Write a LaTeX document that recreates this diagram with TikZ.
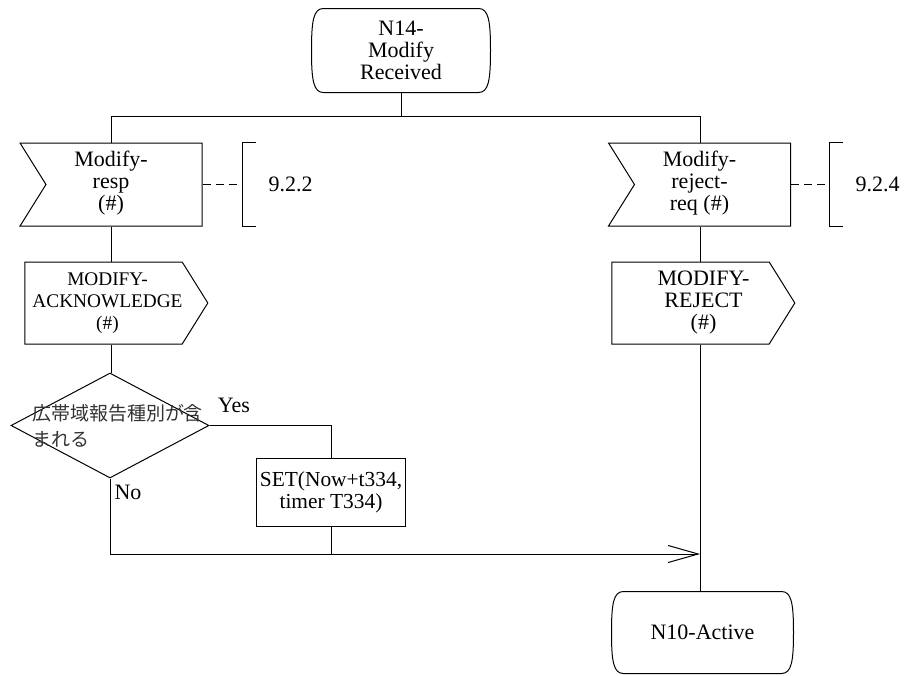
\documentclass[tikz,border=0pt]{standalone}
\usepackage{fontspec}
\setmainfont{Liberation Serif}
\newfontfamily\jpfont{Noto Sans CJK JP}
\usetikzlibrary{arrows.meta, positioning, shapes.geometric, shapes.symbols}

% text of a signal symbol, moved off the node centre
\newcommand{\sigtext}[2]{\hspace*{#1}\begin{tabular}{@{}c@{}}#2\end{tabular}\hspace*{-#1}}
% outline of a state symbol round node #1
\newcommand{\stateframe}[1]{%
  \draw ([xshift=12pt]#1.north west) -- ([xshift=-12pt]#1.north east)
    .. controls ([xshift=-2pt]#1.north east) and ([yshift=-12pt]#1.north east) .. (#1.east)
    .. controls ([yshift=12pt]#1.south east) and ([xshift=-2pt]#1.south east) .. ([xshift=-12pt]#1.south east)
    -- ([xshift=12pt]#1.south west)
    .. controls ([xshift=2pt]#1.south west) and ([yshift=12pt]#1.south west) .. (#1.west)
    .. controls ([yshift=-12pt]#1.north west) and ([xshift=2pt]#1.north west) .. cycle;}

\begin{document}
\begin{tikzpicture}[
    x=1pt, y=-1pt,
    line width=1pt,
    every node/.style={font=\rmfamily\fontsize{22}{22}\selectfont},
    state/.style={rectangle, minimum width=178pt, minimum height=83pt, align=center},
    insig/.style={signal, signal from=west, signal to=nowhere, signal pointer angle=116, draw, minimum width=182pt, minimum height=83pt},
    outsig/.style={signal, signal to=east, signal from=nowhere, signal pointer angle=116, draw, minimum width=183pt, minimum height=82pt, inner xsep=1pt},
    decision/.style={diamond, draw, minimum width=198pt, minimum height=105pt, inner sep=0pt},
    task/.style={rectangle, draw, minimum width=147pt, minimum height=68pt, align=center, font=\rmfamily\fontsize{21.4}{22}\selectfont},
    cmt/.style={rectangle, minimum height=83pt, inner xsep=26pt, anchor=west},
    jp/.style={font=\jpfont\fontsize{19}{26}\selectfont, text=black!80, align=left, text width=176pt, inner sep=0pt},
    arrow/.style={-{Straight Barb[length=30pt, width=17pt]}},
    note/.style={dash pattern=on 8pt off 5pt},
]
\useasboundingbox (0,0) rectangle (908,675);

% ===== START STATE =====
\node[state] (n14) at (401,50.5) {N14-\\Modify\\Received};
\stateframe{n14}
\coordinate (fork) at (401,116);
\coordinate (colL) at (111,0);
\coordinate (colR) at (700,0);

% ===== INPUTS =====
\node[insig] (inResp) at (124,184.5) {\sigtext{-13pt}{Modify-\\resp\\(\#)}};
\node[insig] (inRej) at (712.5,184.5) {\sigtext{-13pt}{Modify-\\reject-\\req (\#)}};

\node[cmt] (cmtResp) at (242,184.5) {9.2.2};
\node[cmt] (cmtRej) at (829,184.5) {9.2.4};

% ===== OUTPUTS =====
\node[outsig] (outAck) at (103.5,303) {\sigtext{4pt}{\fontsize{19.3}{22}\selectfont MODIFY-\\\fontsize{19.3}{22}\selectfont ACKNOWLEDGE\\\fontsize{19.3}{22}\selectfont (\#)}};
\node[outsig] (outRej) at (690.5,303) {\sigtext{13pt}{MODIFY-\\REJECT\\(\#)}};

% ===== DECISION =====
\node[decision, label={[jp, xshift=10pt]center:広帯域報告種別が含\\まれる}] (dec) at (110,425.5) {};
\node (yes) at (234,405) {Yes};
\node (no) at (128,492) {No};
\node[task] (setT) at (331,492) {SET(Now+t334,\\timer T334)};

% ===== END STATE =====
\node[state, minimum width=181pt, minimum height=81pt] (n10) at (702.5,632.5) {N10-Active};
\stateframe{n10}
\coordinate (join) at (700,554);

\draw (n14) -- (fork);
\draw (fork) -| (colL |- inResp.north);
\draw (fork) -| (colR |- inRej.north);
\draw[note] (inResp.east) -- (cmtResp.west);
\draw[note] (inRej.east) -- (cmtRej.west);
\draw ([xshift=14pt]cmtResp.north west) -- (cmtResp.north west) -- (cmtResp.south west) -- ([xshift=14pt]cmtResp.south west);
\draw ([xshift=14pt]cmtRej.north west) -- (cmtRej.north west) -- (cmtRej.south west) -- ([xshift=14pt]cmtRej.south west);

\draw (colL |- inResp.south) -- (colL |- outAck.north);
\draw (colR |- inRej.south) -- (colR |- outRej.north);
\draw (colL |- outAck.south) -- (colL |- dec.north);
\draw (dec.east) -| (setT);
\draw[arrow] (dec.south) |- (join);
\draw (setT) -- (setT |- join);
\draw (colR |- outRej.south) -- (colR |- n10.north);

\end{tikzpicture}
\end{document}
